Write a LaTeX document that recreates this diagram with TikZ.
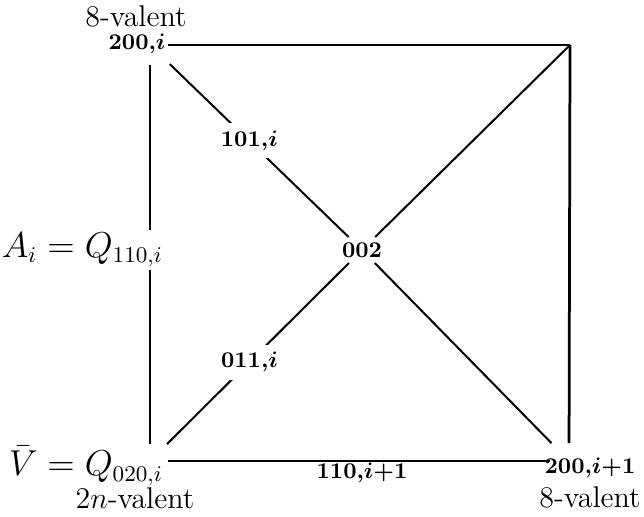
\documentclass[tikz,border=0pt]{standalone}
\usepackage{amsmath}
\usetikzlibrary{calc}
\tikzset{
  edge/.style={draw=black, line width=0.8pt},
  vlabel/.style={font=\small\bfseries\boldmath, inner sep=1pt},
  midlabel/.style={font=\small\bfseries\boldmath, fill=white, inner sep=3pt},
  valence/.style={font=\large, inner sep=0pt},
  qlabel/.style={font=\fontsize{13.3}{16}\selectfont, fill=white, inner sep=1pt}
}
\begin{document}
\begin{tikzpicture}[x=0.4pt,y=-0.4pt]
  \path[use as bounding box] (0,0) rectangle (644,517);

  \coordinate (TL) at (150,45);
  \coordinate (TR) at (570,45);
  \coordinate (BL) at (150,461);
  \coordinate (BR) at (569,461);
  \node[vlabel, inner sep=2pt] (c) at (362,250) {002};

  \draw[edge, shorten <=7.2pt] (TL) -- (TR);
  \draw[edge, line width=1.1pt, shorten >=7.2pt] (TR) -- (BR);
  \draw[edge, shorten <=7.2pt, shorten >=7.6pt] (BL) -- (BR);
  \draw[edge, shorten <=8pt, shorten >=7pt] (TL) -- (BL);

  \draw[edge, shorten <=11pt] (TL) -- node[midlabel] (m101) {101,$i$} (c);
  \draw[edge, shorten <=9.6pt] (BL) -- node[midlabel] (m011) {011,$i$} (c);
  \draw[edge] (c) -- (TR);
  \draw[edge, shorten >=10pt] (c) -- (BR);

  \node[valence] (tlval) at (136,16) {8-valent};
  \node[vlabel] (tl) at (137,44) {200,$i$};
  \node[qlabel, anchor=east] (ai) at (166,250) {$A_i = Q_{110,i}$};
  \node[qlabel, anchor=east] (bl) at (166,466) {$\bar{V} = Q_{020,i}$};
  \node[valence] (blval) at (135,498) {$2n$-valent};
  \node[vlabel] (m110) at (362,473) {110,$i{+}1$};
  \node[vlabel] (br) at (590,468) {200,$i{+}1$};
  \node[valence] (brval) at (590,497) {8-valent};
\end{tikzpicture}
\end{document}
